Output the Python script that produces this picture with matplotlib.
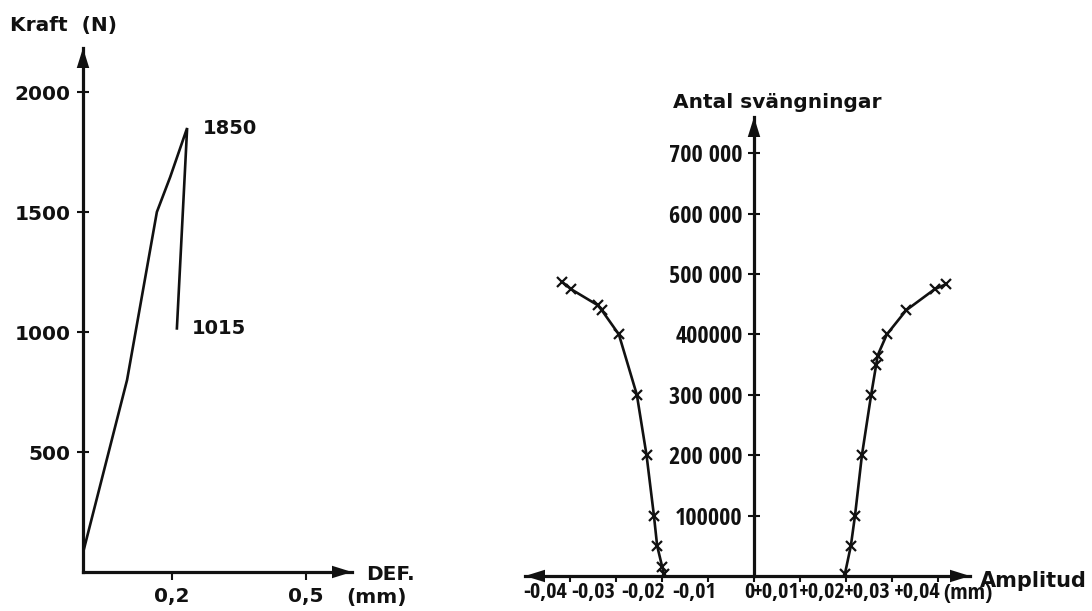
import matplotlib
matplotlib.use("Agg")
import matplotlib.pyplot as plt
from matplotlib.transforms import blended_transform_factory, offset_copy

# Force-deformation curve (left panel)
def_mm = [0.0, 0.099, 0.166, 0.196, 0.234, 0.211]
kraft_n = [80, 800, 1500, 1646, 1850, 1015]
kraft_ticks = [500, 1000, 1500, 2000]
def_ticks = [0.2, 0.5]
def_labels = ["0,2", "0,5"]

# Number of oscillations vs amplitude (right panel)
amp_neg = [-0.0416, -0.0397, -0.0338, -0.0330, -0.0293, -0.0254, -0.0233, -0.0217, -0.0210, -0.0199, -0.0195]
cyc_neg = [487000, 475000, 448000, 440000, 400000, 300000, 200000, 100000, 50000, 15000, 3000]
amp_pos = [0.0197, 0.0210, 0.0219, 0.0234, 0.0254, 0.0265, 0.0268, 0.0288, 0.0330, 0.0392, 0.0416]
cyc_pos = [3000, 50000, 100000, 200000, 300000, 350000, 365000, 400000, 440000, 475000, 483000]
cyc_ticks = [100000, 200000, 300000, 400000, 500000, 600000, 700000]
cyc_labels = ["100000", "200 000", "300 000", "400000", "500 000", "600 000", "700 000"]
amp_ticks = [-0.04, -0.03, -0.02, -0.01, 0.0, 0.01, 0.02, 0.03, 0.04]
amp_labels = ["-0,04", "-0,03", "-0,02", "-0,01", "0", "+0,01", "+0,02", "+0,03", "+0,04"]

W, H = 1092, 611
INK = "#111111"
BOLD = "DejaVu Sans"
COND = "Open Sans Condensed"

fig = plt.figure(figsize=(W / 100, H / 100), dpi=100)
fig.patch.set_facecolor("white")


def px_axes(left, top, right, bottom):
    return fig.add_axes([left / W, 1 - bottom / H, (right - left) / W, (bottom - top) / H])


def ftext(x, y, s, **kw):
    kw.setdefault("fontsize", 14.5)
    kw.setdefault("fontweight", "bold")
    kw.setdefault("family", BOLD)
    kw.setdefault("color", INK)
    fig.text(x / W, 1 - y / H, s, **kw)


def arrow_head(ax, xy, xytext, coords):
    ax.annotate("", xy=xy, xytext=xytext, xycoords=coords, textcoords=coords,
                arrowprops=dict(arrowstyle="-|>,head_length=0.8,head_width=0.25",
                                mutation_scale=18, color=INK, lw=0, shrinkA=0, shrinkB=0),
                annotation_clip=False)


def style_axes(ax):
    ax.set_facecolor("none")
    for side in ("top", "right"):
        ax.spines[side].set_visible(False)
    for side in ("left", "bottom"):
        ax.spines[side].set_linewidth(2.3)
        ax.spines[side].set_color(INK)


# ---- left panel ----
ax1 = px_axes(83, 48, 352, 572)
style_axes(ax1)
ax1.set_xlim(0, (352 - 83) / 445)
ax1.set_ylim(0, (572 - 48) / 0.24)
ax1.plot(def_mm, kraft_n, color=INK, lw=1.9, solid_joinstyle="miter")

ax1.set_yticks(kraft_ticks)
ax1.set_yticklabels([str(v) for v in kraft_ticks])
ax1.set_xticks(def_ticks)
ax1.set_xticklabels(def_labels)
ax1.tick_params(axis="y", direction="inout", length=8.5, width=1.5, pad=4.5, colors=INK)
ax1.tick_params(axis="x", direction="out", length=5.5, width=1.5, pad=5, colors=INK)
for lab in ax1.get_xticklabels() + ax1.get_yticklabels():
    lab.set_fontsize(14.5)
    lab.set_fontweight("bold")
    lab.set_family(BOLD)

arrow_head(ax1, (0, 1.0), (0, 0.9), "axes fraction")
arrow_head(ax1, (1.0, 0), (0.9, 0), "axes fraction")

i_peak = kraft_n.index(max(kraft_n))
ax1.annotate(str(kraft_n[i_peak]), xy=(def_mm[i_peak], kraft_n[i_peak]), xytext=(11.5, 0),
             textcoords="offset points", va="center", ha="left", fontsize=14,
             fontweight="bold", family=BOLD, color=INK)
ax1.annotate(str(kraft_n[-1]), xy=(def_mm[-1], kraft_n[-1]), xytext=(10.5, 0),
             textcoords="offset points", va="center", ha="left", fontsize=14,
             fontweight="bold", family=BOLD, color=INK)

ftext(10, 25, "Kraft  (N)", va="center", ha="left")
ftext(366, 574, "DEF.", va="center", ha="left")
ftext(346, 598, "(mm)", va="center", ha="left")

# ---- right panel ----
ax2 = px_axes(525, 117, 970, 576)
style_axes(ax2)
ax2.set_xlim((525 - 754) / 4612, (970 - 754) / 4612)
ax2.set_ylim(0, (576 - 117) / 60.4e-5)
ax2.spines["left"].set_position(("data", 0))

ax2.plot(amp_neg, cyc_neg, color=INK, lw=1.9, marker="x", ms=7, mew=1.6)
ax2.plot(amp_pos, cyc_pos, color=INK, lw=1.9, marker="x", ms=7, mew=1.6)

ax2.set_yticks(cyc_ticks)
ax2.set_yticklabels(cyc_labels)
ax2.set_xticks(amp_ticks)
ax2.tick_params(axis="y", direction="inout", length=8, width=1.5, pad=4, colors=INK)
ax2.tick_params(axis="x", direction="out", length=4.5, width=1.5, labelbottom=False, colors=INK)
for lab in ax2.get_yticklabels():
    lab.set_fontsize(17.5)
    lab.set_fontweight("bold")
    lab.set_family(COND)

# amplitude labels are lettered tight against each other, right-aligned to their tick
xlab_trans = blended_transform_factory(ax2.transData, ax2.transAxes)
nudge_px = [-2, -1, 3, 8, -5, 0, -1, -2, 2]
for v, s, dx in zip(amp_ticks, amp_labels, nudge_px):
    ax2.text(v, 0, s, transform=offset_copy(xlab_trans, fig=fig, x=dx, y=-6, units="dots"),
             ha="center" if v == 0 else "right", va="top", fontsize=16,
             fontweight="bold", family=COND, color=INK)

arrow_head(ax2, (0, 1.0), (0, 0.9), ("data", "axes fraction"))
arrow_head(ax2, (1.0, 0), (0.9, 0), "axes fraction")
arrow_head(ax2, (0.0, 0), (0.1, 0), "axes fraction")

ftext(777, 102, "Antal svängningar", va="center", ha="center")
ftext(980, 587, "Amplitud", va="baseline", ha="left", fontsize=15)
ftext(943, 583, "(mm)", va="top", ha="left", fontsize=16, family=COND)

fig.savefig("out.png", dpi=100, facecolor="white")
